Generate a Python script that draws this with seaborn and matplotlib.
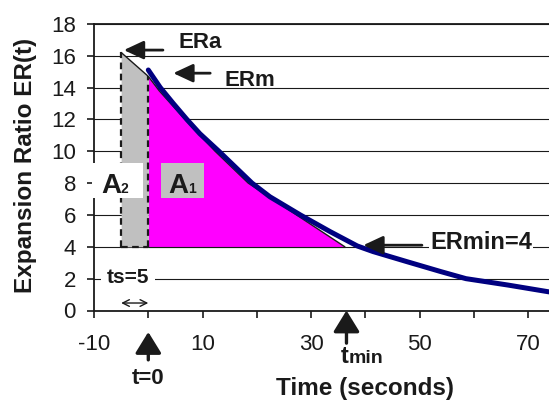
import matplotlib
matplotlib.use("Agg")
import matplotlib.pyplot as plt
import numpy as np
import pandas as pd
import seaborn as sns
from matplotlib.patches import Rectangle

time_s = [0, 2.2, 4.6, 7.1, 9.5, 13.0, 19.1, 22.4, 28.0, 33.5, 38.5, 41.4, 47.7, 53.9,
          58.5, 66.2, 73.8]
ratio = [15.1, 14.0, 13.0, 12.0, 11.1, 10.0, 8.0, 7.14, 6.0, 4.95, 4.05, 3.7, 3.06, 2.44,
         2.0, 1.6, 1.17]

# thin black curve bounding the shaded areas
fit_time = [-5, 0, 2, 7, 12.3, 18.4, 27.3, 36.2]
fit_ratio = [16.2, 14.7, 13.8, 11.9, 10.0, 8.0, 6.0, 4.0]

ts = 5
er_min = 4
t_min = fit_time[-1]

xticks = [-10, 0, 10, 20, 30, 40, 50, 60, 70]
xtick_labels = ["-10", "", "10", "", "30", "", "50", "", "70"]
yticks = list(range(0, 19, 2))

sns.set_theme(style="ticks")
plt.rcParams["font.family"] = ["Liberation Sans", "DejaVu Sans"]
plt.rcParams["text.color"] = "k"

fig = plt.figure(figsize=(5.49, 4.03), dpi=100)
ax = fig.add_axes([94 / 549, 92.5 / 403, 1 - 94 / 549, (379.2 - 92.5) / 403])

fit = pd.DataFrame({"t": fit_time, "er": fit_ratio})
t = np.array(fit_time)
er = np.array(fit_ratio)

ax.set_axisbelow(True)
ax.yaxis.grid(True, color="k", lw=0.8)

ax.fill_between(t, er_min, er, where=t >= 0, color="#ff00ff", lw=0, zorder=2)
ax.fill_between(t, er_min, er, where=t <= 0, color="#c0c0c0", lw=0, zorder=2)
ax.plot([0, t_min], [er_min, er_min], color="k", lw=0.8, zorder=2.1)

sns.lineplot(data=fit, x="t", y="er", color="k", lw=1, ax=ax, zorder=3)
sns.lineplot(x=time_s, y=ratio, color="#000080", lw=3.6, ax=ax, zorder=4)

dash = (0, (3, 2))
ax.plot([-ts, -ts], [er_min, fit_ratio[0]], color="k", ls=dash, lw=1.6, zorder=3)
ax.plot([0, 0], [er_min, fit_ratio[1]], color="k", ls=dash, lw=1.6, zorder=3)
ax.plot([-ts, 0], [er_min, er_min], color="k", ls=dash, lw=1.6, zorder=3)

# area labels
ax.add_patch(Rectangle((-10.4, 7.06), 9.4, 2.2, facecolor="white", edgecolor="none",
                       clip_on=False, zorder=5))
ax.add_patch(Rectangle((2.34, 7.06), 7.96, 2.2, facecolor="#c0c0c0", edgecolor="none",
                       clip_on=False, zorder=5))
ax.text(-8.6, 7.36, "A", fontsize=20, fontweight="bold", va="baseline", zorder=6)
ax.text(-5.1, 7.36, "2", fontsize=10, fontweight="bold", va="baseline", zorder=6)
ax.text(3.7, 7.36, "A", fontsize=20, fontweight="bold", va="baseline", zorder=6)
ax.text(7.3, 7.36, "1", fontsize=10, fontweight="bold", va="baseline", zorder=6)

big = dict(arrowstyle="-|>,head_length=0.6,head_width=0.28", lw=2.0, color="k",
           mutation_scale=20, shrinkA=0, shrinkB=0)
ax.annotate("", xy=(-4.5, 16.35), xytext=(2.7, 16.35), arrowprops=big, zorder=6)
ax.text(5.5, 16.8, "ERa", fontsize=16, fontweight="bold", va="center")
ax.annotate("", xy=(4.6, 14.9), xytext=(11.4, 14.9), arrowprops=big, zorder=6)
ax.text(14.1, 14.45, "ERm", fontsize=16, fontweight="bold", va="center")
ax.annotate("", xy=(39.6, 4.1), xytext=(50.4, 4.1), arrowprops=big, zorder=6)
ax.text(51.9, 4.24, "ERmin=4", fontsize=17, fontweight="bold", va="center",
        bbox=dict(facecolor="white", edgecolor="none", pad=1))

ax.text(-7.6, 2.1, "ts=5", fontsize=15, fontweight="bold", va="center",
        bbox=dict(facecolor="white", edgecolor="none", pad=4))
ax.annotate("", xy=(-ts, 0.47), xytext=(0, 0.47),
            arrowprops=dict(arrowstyle="<->", lw=1, color="k", shrinkA=0, shrinkB=0))

up = dict(arrowstyle="-|>,head_length=0.65,head_width=0.4", lw=2.4, color="k",
          mutation_scale=20, shrinkA=0, shrinkB=0)
ax.annotate("", xy=(0, -1.35), xytext=(0, -3.1), arrowprops=up, annotation_clip=False)
ax.text(0, -4.24, "t=0", fontsize=16, fontweight="bold", ha="center", va="center",
        clip_on=False)
ax.annotate("", xy=(36.5, 0), xytext=(36.5, -2.05), arrowprops=up, annotation_clip=False)
ax.text(35.4, -3.3, "t", fontsize=17, fontweight="bold", va="baseline", clip_on=False)
ax.text(36.9, -3.3, "min", fontsize=14, fontweight="bold", va="baseline", clip_on=False)

ax.set_xlim(-10, 73.8)
ax.set_ylim(0, 18)
ax.set_xticks(xticks)
ax.set_xticklabels(xtick_labels)
ax.set_yticks(yticks)
ax.tick_params(axis="both", direction="out", length=5, width=1.2, color="k",
               labelsize=16, labelcolor="k")
ax.tick_params(axis="y", pad=8)
ax.tick_params(axis="x", pad=12)
ax.set_xlabel("")
ax.set_ylabel("")
for side in ["left", "bottom", "top"]:
    ax.spines[side].set_color("k")
    ax.spines[side].set_linewidth(1.3)
ax.spines["right"].set_visible(False)

fig.text(0.665, 0.037, "Time (seconds)", fontsize=17.5, fontweight="bold",
         ha="center", va="center")
fig.text(0.047, 0.59, "Expansion Ratio ER(t)", fontsize=17.5, fontweight="bold",
         ha="center", va="center", rotation=90)

fig.savefig("out.png", dpi=100)
